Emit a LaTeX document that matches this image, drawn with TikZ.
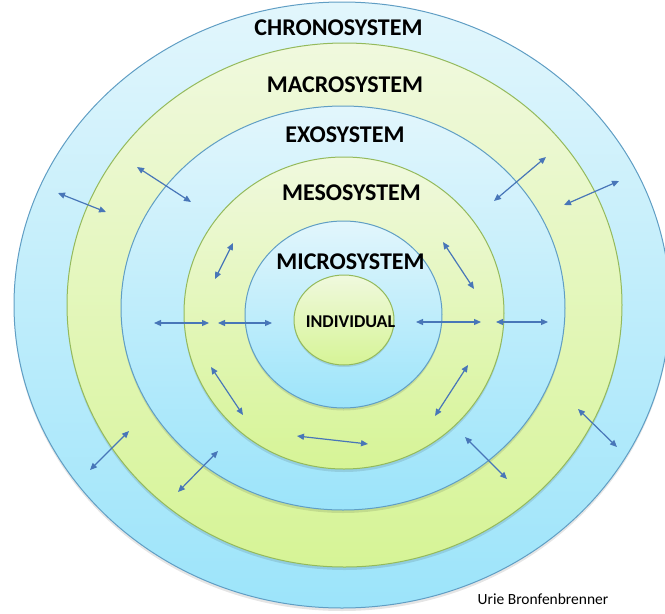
\documentclass[tikz,border=0pt]{standalone}
\usepackage{fontspec}
\setmainfont{Carlito}
\usetikzlibrary{arrows.meta}
\definecolor{colorblueline}   {RGB}{ 96,158,196}
\definecolor{colorbluetop}    {RGB}{226,246,252}
\definecolor{colorbluebottom} {RGB}{156,228,250}
\definecolor{colorgreenline}  {RGB}{148,186, 92}
\definecolor{colorgreentop}   {RGB}{240,249,222}
\definecolor{colorgreenbottom}{RGB}{214,244,150}
\definecolor{colorarrow}      {RGB}{ 72,118,184}

\begin{document}
\begin{tikzpicture}[
    x=1pt, y=-1pt,
    ring/.style={line width=1pt},
    bluering/.style={ring,draw=colorblueline,top color=colorbluetop,bottom color=colorbluebottom},
    greenring/.style={ring,draw=colorgreenline,top color=colorgreentop,bottom color=colorgreenbottom},
    shade/.style={fill=black,opacity=0.10},
    system/.style={font={\fontsize{24}{28}\selectfont\bfseries},inner sep=0pt},
    link/.style={{Triangle[length=7pt,width=6pt]}-{Triangle[length=7pt,width=6pt]},line width=1.2pt,draw=colorarrow},
]

    \useasboundingbox (0,0) rectangle (665,614);
    \clip (0,0) rectangle (665,614);

    % rings, from outside in
    \fill[shade]     (342,308)   ellipse [x radius=328,   y radius=303];
    \draw[bluering]  (342,305)   ellipse [x radius=328,   y radius=303];
    \fill[shade]     (344.5,308) ellipse [x radius=277.5, y radius=262];
    \draw[greenring] (344.5,305) ellipse [x radius=277.5, y radius=262];
    \fill[shade]     (343,311)   ellipse [x radius=222,   y radius=202];
    \draw[bluering]  (343,308)   ellipse [x radius=222,   y radius=202];
    \fill[shade]     (344,316)   ellipse [x radius=160,   y radius=156];
    \draw[greenring] (344,313)   ellipse [x radius=160,   y radius=156];
    \fill[shade]     (343.5,317) ellipse [x radius=98.5,  y radius=93.5];
    \draw[bluering]  (343.5,314.5) ellipse [x radius=98.5, y radius=93.5];
    \fill[shade]     (344,322)   ellipse [x radius=50,    y radius=45];
    \draw[greenring] (344,320)   ellipse [x radius=50,    y radius=45];

    \node[system] (chrono) at (338.5,28)  {CHRONOSYSTEM};
    \node[system] (macro)  at (345,85)    {MACROSYSTEM};
    \node[system] (exo)    at (345,135)   {EXOSYSTEM};
    \node[system] (meso)   at (351.5,193) {MESOSYSTEM};
    \node[system] (micro)  at (350.5,262) {MICROSYSTEM};
    \node[system,font={\fontsize{18}{21}\selectfont\bfseries}] (individual) at (350.5,322) {INDIVIDUAL};

    \node[font={\fontsize{15.5}{18}\selectfont},inner sep=0pt] (author) at (543,599) {Urie Bronfenbrenner};

    % two-way links between the systems
    \foreach \n/\sx/\sy/\ex/\ey in {
        1/58/193/106/212,    2/137/167/191/202,   3/154/323/209/323,
        4/218/323/272/323,   5/233/243/215/279,   6/211/367/243/415,
        7/297/436/368/444,   8/129/431/90/470,    9/218/451/178/492,
        10/546/157/494/201,  11/619/181/564/205,  12/443/242/474/289,
        13/416/322/481/322,  14/496/322/548/322,  15/468/365/435/416,
        16/465/437/507/479,  17/578/409/617/447}
    {
        \coordinate (from\n) at (\sx,\sy);
        \coordinate (to\n)   at (\ex,\ey);
        \draw[link] (from\n) -- (to\n);
    }

\end{tikzpicture}
\end{document}
